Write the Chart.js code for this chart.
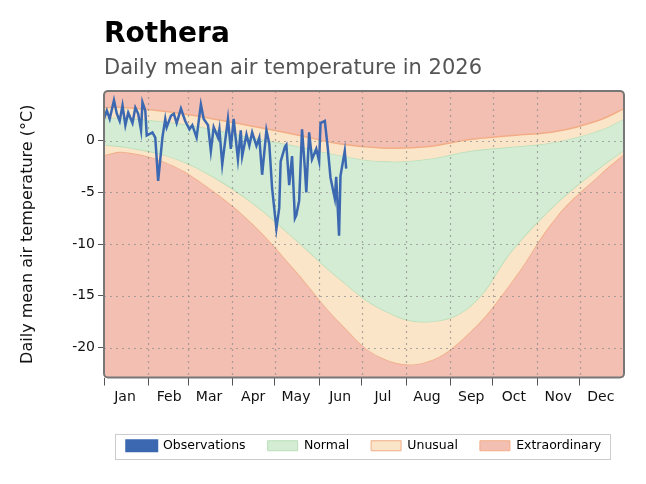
<!DOCTYPE html>
<html><head><meta charset="utf-8">
<script src="https://cdn.jsdelivr.net/npm/chart.js@4"></script>
<style>html,body{margin:0;padding:0;background:#fff}#w{width:646px;height:484px}</style>
</head><body><div id="w"><canvas id="c"></canvas></div>
<script>
const months = ['Jan','Feb','Mar','Apr','May','Jun','Jul','Aug','Sep','Oct','Nov','Dec'];
const monthStarts = [1,32,60,91,121,152,182,213,244,274,305,335];
const yTicks = [0,-5,-10,-15,-20];
const bandDays = [1,15,46,74,105,135,166,196,227,258,288,319,349,366];
const upperUnusual = [3.2,3.2,2.8,2.2,1.4,0.6,-0.3,-0.7,-0.6,0.1,0.5,0.9,2.0,3.1];
const upperNormal = [2.2,2.2,1.8,1.2,0.3,-0.5,-1.4,-2.0,-1.8,-1.0,-0.6,-0.1,1.0,2.1];
const lowerNormal = [-0.4,-0.6,-1.5,-3.2,-6.0,-9.5,-13.3,-16.3,-17.5,-16.0,-10.5,-6.0,-2.6,-0.9];
const lowerUnusual = [-1.4,-1.1,-2.2,-4.5,-8.0,-12.5,-17.5,-21.0,-21.4,-18.5,-13.5,-7.3,-3.3,-1.3];
const obsDays = [1,3,5,8,10,12,14,16,18,21,23,25,27,28,30,31,35,37,39,42,44,45,48,50,52,55,58,61,63,66,69,71,74,76,78,81,82,84,88,90,92,95,97,98,101,103,105,108,110,112,115,117,119,122,124,125,128,129,131,133,135,136,138,140,142,143,145,147,150,152,153,156,158,160,163,164,166,167,170,171];
const obsVals = [2.1,2.9,2.1,3.9,2.6,1.9,3.4,1.5,2.7,1.7,3.2,2.6,1.0,3.7,2.9,0.5,0.8,0.3,-3.9,0.3,2.1,1.3,2.4,2.6,1.7,3.1,1.9,1.1,1.5,0.3,3.5,2.1,1.5,-1.0,1.3,0.3,1.1,-2.3,2.1,-0.8,2.1,-1.8,1.0,-1.5,0.6,-0.5,0.8,-0.5,0.3,-3.3,1.0,-0.3,-4.6,-8.5,-6.5,-2.0,-0.6,-0.4,-4.3,-1.5,-7.5,-7.2,-5.8,1.1,-2.7,-5.0,0.8,-1.8,-0.8,-2.0,1.7,1.9,-0.6,-3.6,-5.6,-3.5,-9.2,-3.4,-1.0,-2.7];

const pts = (d,v)=>d.map((x,i)=>({x,y:v[i]}));
const band = {pointRadius:0,tension:0.4,borderWidth:1.5};
const bgPlugin = {id:'bg',
  afterLayout(ch){const L=ch.legend;const a=ch.chartArea;const dx=(a.left+a.right)/2-(L.left+L.right)/2;L.left+=dx;L.right+=dx;},
  beforeDatasetsDraw(ch){const a=ch.chartArea,c=ch.ctx;c.save();c.fillStyle='#f3bfb3';c.fillRect(a.left,a.top,a.right-a.left,a.bottom-a.top);c.restore();},
  beforeDatasetDraw(ch,args){if(args.index!==0)return;const a=ch.chartArea,c=ch.ctx;c.save();
    c.strokeStyle='rgba(140,140,140,0.7)';c.lineWidth=1.2;c.setLineDash([2,4]);
    monthStarts.slice(1).forEach(d=>{const x=Math.round(ch.scales.x.getPixelForValue(d))+0.5;c.beginPath();c.moveTo(x,a.top);c.lineTo(x,a.bottom);c.stroke();});
    yTicks.forEach(v=>{const y=Math.round(ch.scales.y.getPixelForValue(v))+0.5;c.beginPath();c.moveTo(a.left,y);c.lineTo(a.right,y);c.stroke();});
    c.restore();},
  afterDraw(ch){const a=ch.chartArea,c=ch.ctx;c.save();
    c.strokeStyle='#777';c.lineWidth=2;c.beginPath();c.roundRect(a.left,a.top,a.right-a.left,a.bottom-a.top,4);c.stroke();
    c.fillStyle='#000';c.font='bold 28px "DejaVu Sans"';c.textBaseline='alphabetic';c.fillText('Rothera',a.left,42);
    c.fillStyle='#555';c.font='21px "DejaVu Sans"';c.fillText('Daily mean air temperature in 2026',a.left,74);
    const L=ch.legend,h=L.legendHitBoxes;
    if(h&&h.length){const x0=h[0].left-12,x1=h[h.length-1].left+h[h.length-1].width+8,y0=h[0].top-6,y1=h[0].top+h[0].height+6;
      c.strokeStyle='#ccc';c.lineWidth=1;c.strokeRect(Math.round(x0)+0.5,Math.round(y0)+0.5,Math.round(x1-x0),Math.round(y1-y0));}
    c.restore();}
};
new Chart(document.getElementById('c'),{
  type:'line',
  data:{datasets:[
    {label:'Observations',data:pts(obsDays,obsVals),borderColor:'#3b68b0',backgroundColor:'#3b68b0',borderWidth:2.5,pointRadius:0,tension:0,order:0,fill:false},
    {label:'lu',data:pts(bandDays,lowerUnusual),borderColor:'#f2ad86',fill:false,order:4,...band},
    {label:'Unusual',data:pts(bandDays,lowerNormal),borderColor:'#b9dfb9',backgroundColor:'#fbe5c8',fill:'-1',order:3,...band},
    {label:'Normal',data:pts(bandDays,upperNormal),borderColor:'#b9dfb9',backgroundColor:'#d3ecd3',fill:'-1',order:2,...band},
    {label:'uu',data:pts(bandDays,upperUnusual),borderColor:'#f2ad86',backgroundColor:'#fbe5c8',fill:'-1',order:1,...band}
  ]},
  options:{animation:false,responsive:true,maintainAspectRatio:false,devicePixelRatio:1,
    layout:{padding:{top:91,right:22,left:14,bottom:22}},
    plugins:{tooltip:{enabled:false},
      legend:{position:'bottom',
        labels:{font:{size:12.5,family:'DejaVu Sans'},color:'#222',boxWidth:30,boxHeight:10,padding:22,
          generateLabels(ch){return [
            {text:'Observations',fillStyle:'#3b68b0',strokeStyle:'#3b68b0',lineWidth:3,pointStyle:'line',datasetIndex:0},
            {text:'Normal',fillStyle:'#d3ecd3',strokeStyle:'#b9dfb9',lineWidth:1,datasetIndex:3},
            {text:'Unusual',fillStyle:'#fbe5c8',strokeStyle:'#f2ad86',lineWidth:1,datasetIndex:2},
            {text:'Extraordinary',fillStyle:'#f3bfb3',strokeStyle:'#f2ad86',lineWidth:1,datasetIndex:1}];}
        },onClick(){}}
    },
    scales:{
      x:{type:'linear',min:1,max:366,
        afterBuildTicks(s){s.ticks=monthStarts.map(v=>({value:v}));},
        afterFit(s){s.height=40;},
        ticks:{autoSkip:false,maxRotation:0,labelOffset:21,font:{size:14,family:'DejaVu Sans'},color:'#111',
          callback:(v,i)=>months[i]},
        grid:{drawOnChartArea:false,tickColor:'#555',tickLength:8},
        border:{display:false}},
      y:{min:-22.9,max:4.8,
        afterBuildTicks(s){s.ticks=yTicks.map(v=>({value:v}));},
        afterFit(s){s.width=90;},
        ticks:{font:{size:14,family:'DejaVu Sans'},color:'#111'},
        title:{display:true,text:'Daily mean air temperature (°C)',font:{size:16,family:'DejaVu Sans'},color:'#111'},
        grid:{drawOnChartArea:false,tickColor:'#555',tickLength:6},
        border:{display:false}}
    }
  },
  plugins:[bgPlugin]
});
</script></body></html>
